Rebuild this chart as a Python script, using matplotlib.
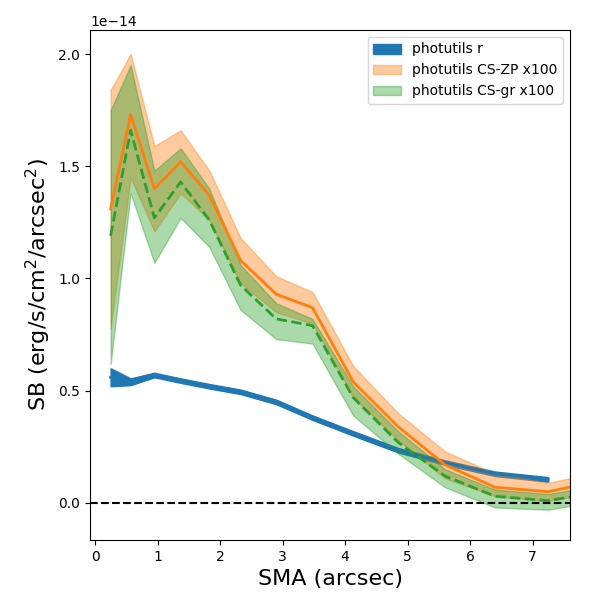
import matplotlib
matplotlib.use("Agg")
import matplotlib.pyplot as plt
import numpy as np

sma = np.array([0.25, 0.57, 0.95, 1.37, 1.83, 2.33, 2.9, 3.48, 4.13, 4.85, 5.6, 6.4, 7.25, 8.1])
r_mid = np.array([0.56, 0.54, 0.57, 0.545, 0.52, 0.495, 0.45, 0.38, 0.31, 0.235, 0.18, 0.13, 0.105])
r_lo = np.array([0.52, 0.525, 0.56, 0.535, 0.51, 0.485, 0.44, 0.37, 0.30, 0.225, 0.17, 0.12, 0.095])
r_hi = np.array([0.60, 0.555, 0.58, 0.555, 0.53, 0.505, 0.46, 0.39, 0.32, 0.245, 0.19, 0.14, 0.115])
zp_mid = np.array([1.31, 1.73, 1.40, 1.52, 1.37, 1.08, 0.93, 0.87, 0.54, 0.34, 0.17, 0.07, 0.05, 0.10])
zp_hi = np.array([1.84, 2.00, 1.59, 1.66, 1.48, 1.18, 1.01, 0.94, 0.61, 0.40, 0.23, 0.13, 0.09, 0.14])
zp_lo = np.array([0.78, 1.45, 1.21, 1.38, 1.26, 0.98, 0.85, 0.80, 0.47, 0.28, 0.11, 0.03, 0.01, 0.05])
gr_mid = np.array([1.19, 1.66, 1.27, 1.43, 1.26, 0.97, 0.82, 0.79, 0.47, 0.27, 0.12, 0.03, 0.01, 0.05])
gr_hi = np.array([1.75, 1.95, 1.48, 1.58, 1.40, 1.06, 0.89, 0.82, 0.52, 0.32, 0.15, 0.06, 0.04, 0.08])
gr_lo = np.array([0.62, 1.38, 1.07, 1.27, 1.14, 0.86, 0.73, 0.71, 0.39, 0.22, 0.07, -0.02, -0.03, 0.01])
scale = 1e-14

fig = plt.figure(figsize=(6, 6), dpi=100)
ax = fig.add_axes([0.15, 0.10, 0.80, 0.85])
n = len(r_mid)
ax.fill_between(sma[:n], r_lo*scale, r_hi*scale, color='C0', alpha=1, label='photutils r')
ax.plot(sma[:n], r_mid*scale, color='C0', lw=2)
ax.fill_between(sma, zp_lo*scale, zp_hi*scale, color='C1', alpha=0.4, label='photutils CS-ZP x100')
ax.plot(sma, zp_mid*scale, color='C1', lw=2)
ax.fill_between(sma, gr_lo*scale, gr_hi*scale, color='C2', alpha=0.4, label='photutils CS-gr x100')
ax.plot(sma, gr_mid*scale, color='C2', lw=2, ls='--')
ax.axhline(0, color='k', ls='--')
ax.set_xlim(-0.08, 7.6)
ax.set_ylim(-0.165e-14, 2.107e-14)
ax.set_xlabel('SMA (arcsec)', fontsize=16)
ax.set_ylabel('SB (erg/s/cm$^2$/arcsec$^2$)', fontsize=16)
ax.legend(loc='upper right')
fig.savefig('out.png')
